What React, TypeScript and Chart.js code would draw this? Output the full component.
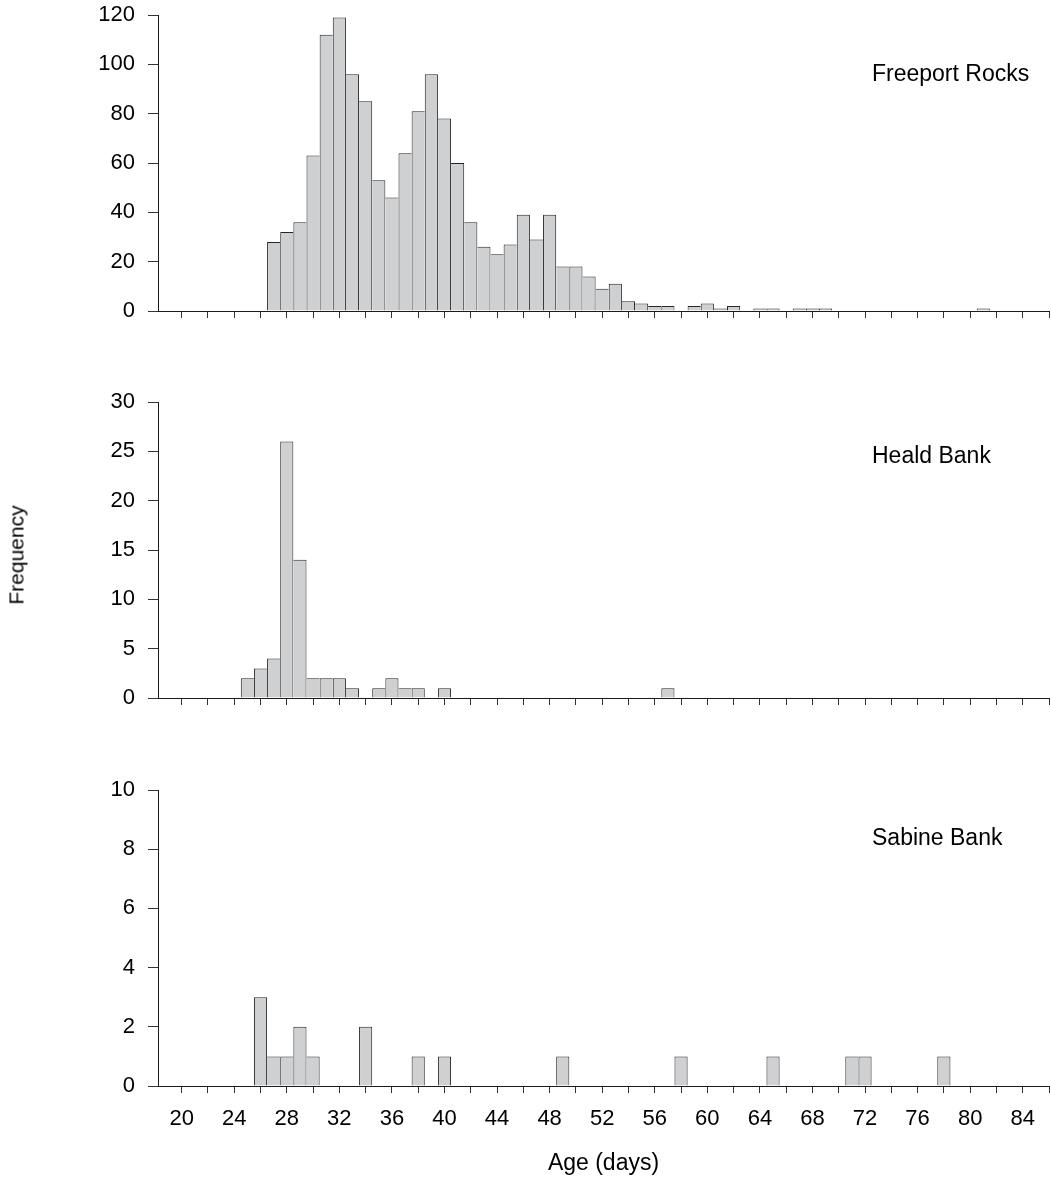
import React, { useEffect, useRef } from 'react';
import { Chart, registerables } from 'chart.js';

Chart.register(...registerables);

// ---- Data ----
const FREEPORT_DAYS = [27, 28, 29, 30, 31, 32, 33, 34, 35, 36, 37, 38, 39, 40, 41, 42, 43, 44, 45, 46, 47, 48, 49, 50, 51, 52, 53, 54, 55, 56, 57, 59, 60, 61, 62, 64, 65, 67, 68, 69, 81];
const FREEPORT_COUNTS = [28, 32, 36, 63, 112, 119, 96, 85, 53, 46, 64, 81, 96, 78, 60, 36, 26, 23, 27, 39, 29, 39, 18, 18, 14, 9, 11, 4, 3, 2, 2, 2, 3, 1, 2, 1, 1, 1, 1, 1, 1];

const HEALD_DAYS = [25, 26, 27, 28, 29, 30, 31, 32, 33, 35, 36, 37, 38, 40, 57];
const HEALD_COUNTS = [2, 3, 4, 26, 14, 2, 2, 2, 1, 1, 2, 1, 1, 1, 1];

const SABINE_DAYS = [26, 27, 28, 29, 30, 34, 38, 40, 49, 58, 65, 71, 72, 78];
const SABINE_COUNTS = [3, 1, 1, 2, 1, 2, 1, 1, 1, 1, 1, 1, 1, 1];

const X_TICKS = [20, 22, 24, 26, 28, 30, 32, 34, 36, 38, 40, 42, 44, 46, 48, 50, 52, 54, 56, 58, 60, 62, 64, 66, 68, 70, 72, 74, 76, 78, 80, 82, 84, 86];
const X_LABELS = [20, 24, 28, 32, 36, 40, 44, 48, 52, 56, 60, 64, 68, 72, 76, 80, 84];

const PANEL_NAMES = ['Freeport Rocks', 'Heald Bank', 'Sabine Bank'];
const Y_MAX = [120, 30, 10];
const Y_STEP = [20, 5, 2];
const X_TITLE = 'Age (days)';
const Y_TITLE = 'Frequency';

const FONT = '"Liberation Sans", Arial, Helvetica, sans-serif';
const BAR_FILL = '#cfd0d2';
const BAR_EDGE = '#262626';
const AXIS_COLOR = '#1a1a1a';
const TICK_COLOR = '#333333';

type PanelProps = {
  days: number[];
  counts: number[];
  yMax: number;
  yStep: number;
  top: number;
  height: number;
  padTop: number;
  xAxisHeight: number;
  bottomPanel: boolean;
};

function Panel(p: PanelProps) {
  const ref = useRef<HTMLCanvasElement | null>(null);
  useEffect(() => {
    if (!ref.current) return;
    const data = p.days.map((d, i) => ({ x: d, y: p.counts[i] }));
    const valueAt = (day: number) => {
      const idx = p.days.indexOf(day);
      return idx >= 0 ? p.counts[idx] : null;
    };
    const chart = new Chart(ref.current, {
      type: 'bar',
      data: {
        datasets: [
          {
            data: data as any,
            backgroundColor: BAR_FILL,
            borderColor: BAR_EDGE,
            borderWidth: (ctx: any) => {
              const i = ctx.dataIndex;
              const d = p.days[i];
              const v = p.counts[i];
              const prev = valueAt(d - 1);
              const next = valueAt(d + 1);
              return {
                top: 1,
                bottom: 0,
                left: prev === null || prev <= v ? 1 : 0,
                right: next === null || next < v ? 1 : 0,
              };
            },
            borderSkipped: false,
            inflateAmount: 0,
            barPercentage: 1,
            categoryPercentage: 1,
          } as any,
        ],
      },
      options: {
        responsive: false,
        animation: false,
        events: [],
        layout: { padding: { top: p.padTop, left: 0, right: 2, bottom: 0 } },
        plugins: { legend: { display: false }, tooltip: { enabled: false }, title: { display: false } },
        scales: {
          x: {
            type: 'linear',
            min: 18.2,
            max: 86,
            offset: false,
            grid: {
              offset: false,
              drawOnChartArea: false,
              drawTicks: true,
              tickLength: 7,
              color: TICK_COLOR,
              lineWidth: 1,
            },
            border: { display: true, color: AXIS_COLOR, width: 1 },
            ticks: {
              display: p.bottomPanel,
              autoSkip: false,
              maxRotation: 0,
              minRotation: 0,
              padding: 13,
              color: '#000',
              font: { family: FONT, size: 22 },
              callback: (v: any) => (X_LABELS.indexOf(Number(v)) >= 0 ? String(v) : ''),
            },
            title: {
              display: p.bottomPanel,
              text: X_TITLE,
              color: '#000',
              font: { family: FONT, size: 23 },
              padding: { top: 0, bottom: 6 },
            },
            afterBuildTicks: (scale: any) => {
              scale.ticks = X_TICKS.map((v) => ({ value: v }));
            },
            afterFit: (scale: any) => {
              scale.height = p.xAxisHeight;
              scale.paddingLeft = 0;
              scale.paddingRight = 0;
            },
          } as any,
          y: {
            type: 'linear',
            min: 0,
            max: p.yMax,
            grid: {
              drawOnChartArea: false,
              drawTicks: true,
              tickLength: 10,
              color: TICK_COLOR,
              lineWidth: 1,
            },
            border: { display: true, color: AXIS_COLOR, width: 1 },
            ticks: {
              stepSize: p.yStep,
              padding: 13,
              color: '#000',
              font: { family: FONT, size: 22 },
            },
            afterFit: (scale: any) => {
              scale.width = 158;
              scale.paddingTop = 0;
              scale.paddingBottom = 0;
            },
          } as any,
        },
      },
    });
    return () => chart.destroy();
  }, []);
  return (
    <canvas
      ref={ref}
      width={1051}
      height={p.height}
      style={{ position: 'absolute', left: 0, top: p.top, width: 1051, height: p.height }}
    />
  );
}

const labelStyle = (top: number): React.CSSProperties => ({
  position: 'absolute',
  left: 872,
  top,
  fontFamily: FONT,
  fontSize: 23,
  lineHeight: 1,
  color: '#000',
  whiteSpace: 'nowrap',
});

export default function App() {
  return (
    <div
      style={{
        position: 'absolute',
        left: 0,
        top: 0,
        width: 1051,
        height: 1183,
        overflow: 'hidden',
        background: '#fff',
      }}
    >
      <Panel days={FREEPORT_DAYS} counts={FREEPORT_COUNTS} yMax={Y_MAX[0]} yStep={Y_STEP[0]} top={0} height={340} padTop={15} xAxisHeight={29} bottomPanel={false} />
      <Panel days={HEALD_DAYS} counts={HEALD_COUNTS} yMax={Y_MAX[1]} yStep={Y_STEP[1]} top={370} height={340} padTop={32} xAxisHeight={12} bottomPanel={false} />
      <Panel days={SABINE_DAYS} counts={SABINE_COUNTS} yMax={Y_MAX[2]} yStep={Y_STEP[2]} top={740} height={443} padTop={50} xAxisHeight={97} bottomPanel={true} />
      <div style={labelStyle(62)}>{PANEL_NAMES[0]}</div>
      <div style={labelStyle(444)}>{PANEL_NAMES[1]}</div>
      <div style={labelStyle(826)}>{PANEL_NAMES[2]}</div>
      <div
        style={{
          position: 'absolute',
          left: 16,
          top: 555,
          transform: 'translate(-50%, -50%) rotate(-90deg)',
          fontFamily: FONT,
          fontSize: 21,
          lineHeight: 1,
          color: '#000',
          whiteSpace: 'nowrap',
        }}
      >
        {Y_TITLE}
      </div>
    </div>
  );
}
